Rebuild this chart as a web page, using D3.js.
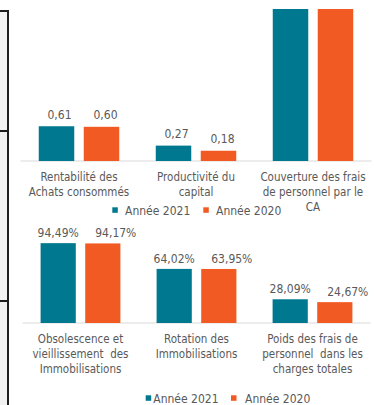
<!DOCTYPE html>
<html>
<head>
<meta charset="utf-8">
<script src="https://cdn.jsdelivr.net/npm/d3@7/dist/d3.min.js"></script>
<style>
  html, body { margin: 0; padding: 0; background: #fff; }
  svg { display: block; }
  text { font-family: "DejaVu Sans Condensed", "DejaVu Sans", sans-serif; fill: #595959; }
</style>
</head>
<body>
<svg id="chart" width="374" height="405"></svg>
<script>
// Series
const series = ["Année 2021", "Année 2020"];
const colors = ["#00788F", "#F15A22"];

// Ratios (upper panel)
const ratioCategories = [
  "Rentabilité des\nAchats consommés",
  "Productivité du\ncapital",
  "Couverture des frais\nde personnel par le\nCA"
];
const ratio2021 = [0.61, 0.27, 3.10];
const ratio2020 = [0.60, 0.18, 3.00];

// Percentages (lower panel)
const pctCategories = [
  "Obsolescence et\nvieillissement  des\nImmobilisations",
  "Rotation des\nImmobilisations",
  "Poids des frais de\npersonnel  dans les\ncharges totales"
];
const pct2021 = [94.49, 64.02, 28.09];
const pct2020 = [94.17, 63.95, 24.67];

const fr = d3.formatLocale({ decimal: ",", thousands: " ", grouping: [3], currency: ["", " €"] });
const fmtRatio = fr.format(".2f");
const fmtPct = v => fr.format(".2f")(v) + "%";

const svg = d3.select("#chart");
const FS = 11.5;
const PLOT_TOP = 9;

// Left side frame
svg.append("rect").attr("x", 0).attr("y", 11).attr("width", 8).attr("height", 394).attr("fill", "#f2f2f2");
const frame = svg.append("g").attr("stroke", "#1e1e1e").attr("stroke-width", 2);
frame.append("line").attr("x1", 8).attr("x2", 8).attr("y1", 10).attr("y2", 405);
frame.append("line").attr("x1", 0).attr("x2", 9).attr("y1", 11).attr("y2", 11);
frame.append("line").attr("x1", 0).attr("x2", 8).attr("y1", 131).attr("y2", 131);
frame.append("line").attr("x1", 0).attr("x2", 8).attr("y1", 301).attr("y2", 301);

svg.append("defs").append("clipPath").attr("id", "plotClip")
  .append("rect").attr("x", 0).attr("y", PLOT_TOP).attr("width", 374).attr("height", 405 - PLOT_TOP);

function panel(opts) {
  const { categories, v2021, v2020, xRange, y, fmt, labelGap, labelDx, catY, legend } = opts;
  const rows = categories.map((c, i) => ({ cat: c, values: [v2021[i], v2020[i]] }));

  const x0 = d3.scaleBand().domain(categories).range(xRange);
  const bw = x0.bandwidth();
  const x1 = d3.scaleBand().domain(series)
    .range([bw * 0.156, bw * 0.844]).paddingInner(0.211);

  const g = svg.append("g").attr("clip-path", "url(#plotClip)");

  // baseline
  g.append("line")
    .attr("x1", xRange[0]).attr("x2", xRange[1])
    .attr("y1", y(0)).attr("y2", y(0))
    .attr("stroke", "#d9d9d9").attr("stroke-width", 1);

  const groups = g.selectAll("g.cat").data(rows).join("g")
    .attr("class", "cat")
    .attr("transform", d => `translate(${x0(d.cat)},0)`);

  groups.selectAll("rect").data(d => d.values.map((v, k) => ({ v, k }))).join("rect")
    .attr("x", d => x1(series[d.k]))
    .attr("width", x1.bandwidth())
    .attr("y", d => y(d.v))
    .attr("height", d => y(0) - y(d.v))
    .attr("fill", d => colors[d.k]);

  // value labels; those that would sit above the plot area are not drawn
  groups.selectAll("text.val")
    .data(d => d.values.map((v, k) => ({ v, k })).filter(e => y(e.v) - labelGap - 10 > PLOT_TOP))
    .join("text")
    .attr("class", "val")
    .attr("x", d => x1(series[d.k]) + x1.bandwidth() / 2 + labelDx[d.k])
    .attr("y", d => y(d.v) - labelGap)
    .attr("text-anchor", "middle")
    .attr("font-size", FS + 0.5)
    .text(d => fmt(d.v));

  // category labels
  const cg = svg.append("g");
  categories.forEach(c => {
    const t = cg.append("text")
      .attr("x", x0(c) + bw / 2)
      .attr("y", catY)
      .attr("text-anchor", "middle")
      .attr("font-size", FS)
      .style("white-space", "pre");
    c.split("\n").forEach((line, i) => {
      t.append("tspan").attr("x", x0(c) + bw / 2).attr("y", catY + i * 15).text(line);
    });
  });

  // legend
  const lg = svg.append("g");
  series.forEach((s, k) => {
    lg.append("rect")
      .attr("x", legend.sq[k]).attr("y", legend.y - 7.7)
      .attr("width", 5.5).attr("height", 5.5)
      .attr("fill", colors[k]);
    lg.append("text")
      .attr("x", legend.tx[k]).attr("y", legend.y)
      .attr("font-size", FS + 0.5)
      .text(s);
  });
}

panel({
  categories: ratioCategories,
  v2021: ratio2021,
  v2020: ratio2020,
  xRange: [20.5, 371.5],
  y: d3.scaleLinear().domain([0, 2.65]).range([161, 10]),
  fmt: fmtRatio,
  labelGap: 7.5,
  labelDx: [3, 4],
  catY: 181,
  legend: { y: 215, sq: [112.3, 203.3], tx: [125, 216] }
});

panel({
  categories: pctCategories,
  v2021: pct2021,
  v2020: pct2020,
  xRange: [22.5, 370.5],
  y: d3.scaleLinear().domain([0, 100]).range([323, 238.5]),
  fmt: fmtPct,
  labelGap: 6,
  labelDx: [0, 13],
  catY: 343,
  legend: { y: 403, sq: [145.7, 231], tx: [153.3, 245] }
});
</script>
</body>
</html>
